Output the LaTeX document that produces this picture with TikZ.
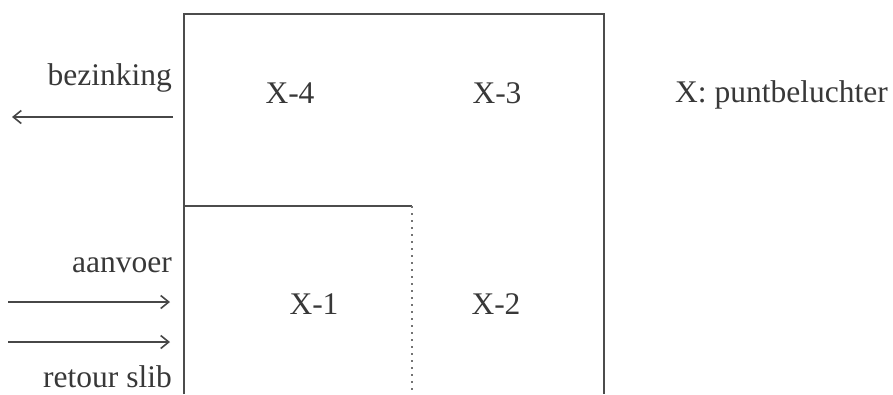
\documentclass[tikz,border=0pt]{standalone}
\usepackage{fontspec}
\setmainfont{Liberation Serif}
\usetikzlibrary{arrows.meta, positioning}

\begin{document}
\begin{tikzpicture}[x=1pt, y=-1pt,
    lbl/.style={inner sep=0pt, text=black!78, font=\fontsize{31.5}{38}\selectfont},
    wall/.style={line width=2pt, draw=black!70},
    flow/.style={line width=1.4pt, draw=black!72, -{Straight Barb[length=8pt, width=13pt, line width=1.6pt]}}]
    \useasboundingbox (0,0) rectangle (893,394);
    % tank walls
    \coordinate (bl) at (184,394);
    \coordinate (tl) at (184,14);
    \coordinate (tr) at (604,14);
    \coordinate (br) at (604,394);
    \coordinate (ml) at (184,206);
    \coordinate (mc) at (412,206);
    \coordinate (mb) at (412,394);
    \draw[wall] (bl) -- (tl) -- (tr) -- (br);
    \draw[wall] (ml) -- (mc);
    \draw[line width=1.6pt, draw=black!55, dash pattern=on 1.6pt off 5.4pt] (mc) -- (mb);
    % zones
    \node[lbl, anchor=base] (x4) at (290,103) {X-4};
    \node[lbl, anchor=base] (x3) at (497,103) {X-3};
    \node[lbl, anchor=base] (x1) at (314,314) {X-1};
    \node[lbl, anchor=base] (x2) at (496,314) {X-2};
    \node[lbl, anchor=base west] (legend) at (675,102) {X: puntbeluchter};
    % flows
    \node[lbl, anchor=base east] (bez) at (172,85) {bezinking};
    \node[lbl, anchor=base east] (aan) at (172,272) {aanvoer};
    \node[lbl, anchor=base east] (ret) at (172,387) {retour slib};
    \coordinate (bezA) at (173,117);
    \coordinate (bezB) at (12,117);
    \coordinate (aanA) at (8,302);
    \coordinate (aanB) at (170,302);
    \coordinate (retA) at (8,342);
    \coordinate (retB) at (170,342);
    \draw[flow] (bezA) -- (bezB);
    \draw[flow] (aanA) -- (aanB);
    \draw[flow] (retA) -- (retB);
\end{tikzpicture}
\end{document}
